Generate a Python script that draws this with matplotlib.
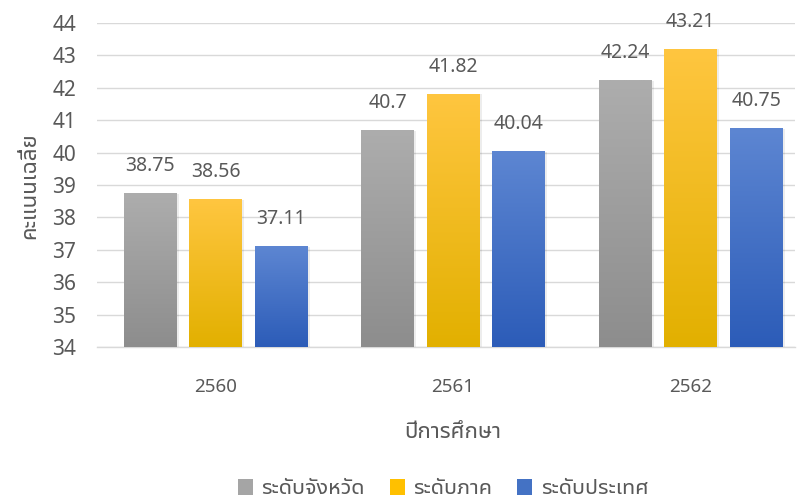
import numpy as np
import matplotlib
matplotlib.use("Agg")
import matplotlib.pyplot as plt
from matplotlib.colors import LinearSegmentedColormap
from matplotlib.patches import Patch

years = ["2560", "2561", "2562"]
series_names = ["ระดับจังหวัด", "ระดับภาค", "ระดับประเทศ"]
province = [38.75, 40.70, 42.24]
region = [38.56, 41.82, 43.21]
country = [37.11, 40.04, 40.75]
value_labels = [["38.75", "40.7", "42.24"], ["38.56", "41.82", "43.21"], ["37.11", "40.04", "40.75"]]
y_ticks = [34, 35, 36, 37, 38, 39, 40, 41, 42, 43, 44]

plt.rcParams['font.family'] = ['Noto Sans Thai UI', 'Noto Sans', 'DejaVu Sans']

grad_colors = [("#adadad", "#8d8d8d"), ("#ffc640", "#e2b000"), ("#5d86d2", "#2c5cb8")]
legend_colors = ["#a5a5a5", "#ffc000", "#4472c4"]
text_col = "#595959"

fig = plt.figure(figsize=(7.99, 5.01), dpi=100)
ax = fig.add_axes([97/799, 1-347/501, 698/799, 324/501])

data = [province, region, country]
x = np.arange(len(years))
width = 0.221
offs = [-0.276, 0.0, 0.276]
ymin, ymax = 34, 44
for i, vals in enumerate(data):
    bars = ax.bar(x + offs[i], np.array(vals) - ymin, bottom=ymin, width=width, color="none", edgecolor="none", zorder=3)
    cmap = LinearSegmentedColormap.from_list("g%d" % i, [grad_colors[i][1], grad_colors[i][0]])
    for b, v, lab in zip(bars, vals, value_labels[i]):
        x0 = b.get_x(); w = b.get_width()
        # soft shadow
        ax.bar(x0 + w/2 + 0.005, v - ymin - 0.02, bottom=ymin, width=w + 0.01, color="#000000", alpha=0.07, zorder=2, edgecolor="none")
        grad = np.linspace(0, 1, 256).reshape(-1, 1)
        im = ax.imshow(grad, cmap=cmap, origin="lower", aspect="auto",
                       extent=[x0, x0 + w, ymin, v], zorder=3)
        im.set_clip_path(b)
        ax.text(x0 + w/2, v + 0.83, lab, ha="center", va="center", fontsize=14, color=text_col, zorder=4)

ax.set_xlim(-0.5, 2.44)
ax.set_ylim(ymin, ymax)
ax.set_yticks(y_ticks)
ax.set_xticks(x)
ax.set_xticklabels(years)
ax.tick_params(axis="y", length=0, labelsize=15, labelcolor=text_col, pad=15)
ax.tick_params(axis="x", length=0, labelsize=13.5, labelcolor=text_col, pad=22)
ax.yaxis.grid(True, color="#d9d9d9", linewidth=1, zorder=0)
ax.set_axisbelow(True)
for s in ["top", "right", "left"]:
    ax.spines[s].set_visible(False)
ax.spines["bottom"].set_color("#d9d9d9")
ax.spines["bottom"].set_linewidth(1)

fig.text(30/799, 1-186/501, "คะแนนเฉลี่ย", rotation=90, ha="center", va="center", fontsize=16, color=text_col)
fig.text(453/799, 1-432/501, "ปีการศึกษา", ha="center", va="center", fontsize=16, color=text_col)

handles = [Patch(facecolor=c, edgecolor="none") for c in legend_colors]
fig.legend(handles, series_names, loc="center", bbox_to_anchor=(443/799, 1-489/501), ncol=3, frameon=False,
           fontsize=15.5, labelcolor=text_col, handlelength=0.7, handleheight=0.7, handletextpad=0.4, columnspacing=1.15)

fig.savefig("out.png", dpi=100)
